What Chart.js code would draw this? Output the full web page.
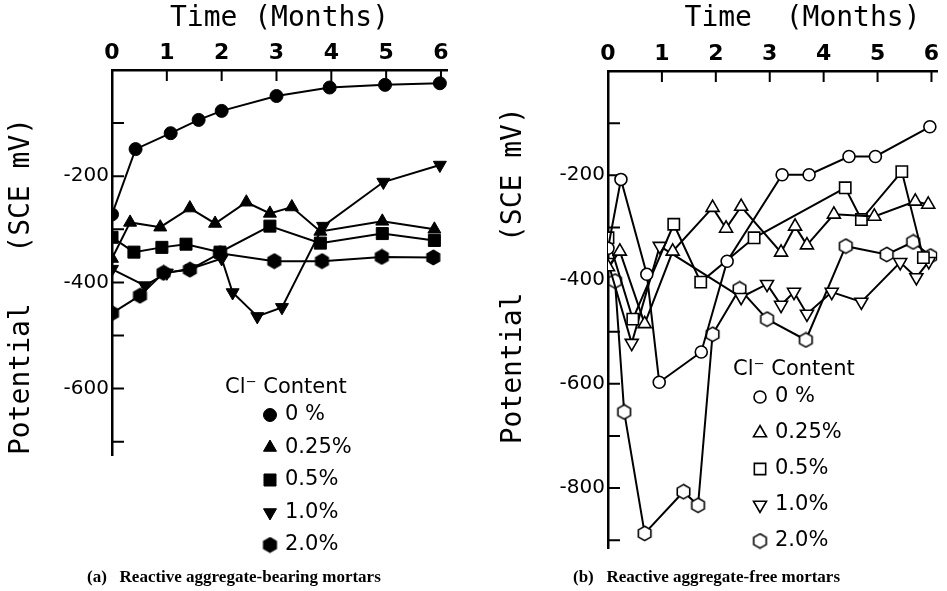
<!DOCTYPE html>
<html>
<head>
<meta charset="utf-8">
<script src="https://cdn.jsdelivr.net/npm/chart.js@4/dist/chart.umd.min.js"></script>
<style>
  body { margin: 0; background: #fff; }
  #wrap { position: relative; width: 947px; height: 591px; overflow: hidden; }
  canvas { position: absolute; top: 0; }
  .caption {
    position: absolute; top: 567px;
    font: bold 17px "Liberation Serif", "DejaVu Serif", serif;
    color: #000; white-space: pre;
  }
</style>
</head>
<body>
<div id="wrap">
  <canvas id="chartA" width="475" height="591" style="left:0"></canvas>
  <canvas id="chartB" width="472" height="591" style="left:475px"></canvas>
  <div class="caption" style="left:87px">(a)   Reactive aggregate-bearing mortars</div>
  <div class="caption" style="left:573px">(b)   Reactive aggregate-free mortars</div>
</div>
<script>
// tick labels
const xTicks = [0, 1, 2, 3, 4, 5, 6];
const aYTicks = [-100, -200, -300, -400, -500, -600, -700];
const aYLabels = [-200, -400, -600];
const bYTicks = [-100, -200, -300, -400, -500, -600, -700, -800, -900];
const bYLabels = [-200, -400, -600, -800];
const contentLabels = ['0 %', '0.25%', '0.5%', '1.0%', '2.0%'];
const legendTitle = 'Cl\u207B Content';

// (a) reactive aggregate-bearing mortars, potential in mV vs time in months
const aTime0 = [0, 0.43, 1.07, 1.58, 2.0, 3.0, 3.97, 4.98, 5.98];
const aPot0 = [-272, -149, -119, -94, -77, -49, -33, -28, -25];
const aTime025 = [0, 0.33, 0.88, 1.42, 1.88, 2.45, 2.88, 3.28, 3.8, 4.93, 5.88];
const aPot025 = [-355, -287, -296, -260, -289, -249, -270, -258, -304, -285, -300];
const aTime05 = [0, 0.4, 0.91, 1.35, 1.97, 2.88, 3.8, 4.93, 5.88];
const aPot05 = [-315, -343, -334, -328, -343, -294, -326, -308, -321];
const aTime10 = [0, 0.6, 1.0, 1.45, 2.0, 2.2, 2.65, 3.1, 3.85, 4.95, 5.98];
const aPot10 = [-375, -406, -382, -374, -355, -419, -464, -447, -294, -211, -179];
const aTime20 = [0, 0.51, 0.94, 1.42, 1.97, 2.96, 3.83, 4.92, 5.86];
const aPot20 = [-458, -425, -382, -376, -345, -360, -360, -352, -353];

// (b) reactive aggregate-free mortars
const bTime0 = [0, 0.24, 0.72, 0.95, 1.73, 2.21, 3.23, 3.73, 4.47, 4.96, 5.97];
const bPot0 = [-340, -208, -390, -597, -539, -365, -199, -199, -164, -164, -107];
const bTime025 = [0, 0.22, 0.68, 1.2, 1.94, 2.19, 2.47, 3.21, 3.47, 3.69, 4.19, 4.94, 5.7, 5.94];
const bPot025 = [-376, -346, -485, -346, -262, -302, -260, -348, -298, -334, -275, -279, -250, -256];
const bTime05 = [0, 0.46, 1.22, 1.72, 2.71, 4.4, 4.7, 5.45, 5.85];
const bPot05 = [-320, -476, -294, -405, -320, -224, -285, -193, -358];
const bTime10 = [0, 0.44, 0.96, 2.47, 2.95, 3.21, 3.45, 3.69, 4.15, 4.7, 5.42, 5.72, 5.95];
const bPot10 = [-367, -522, -336, -434, -409, -449, -424, -466, -424, -443, -367, -396, -365];
const bTime20 = [0.13, 0.3, 0.68, 1.4, 1.67, 1.94, 2.44, 2.95, 3.67, 4.41, 5.17, 5.66, 5.98];
const bPot20 = [-403, -654, -887, -807, -833, -505, -418, -476, -516, -336, -352, -328, -355];

function pts(times, vals) {
  return times.map((t, i) => ({ x: t, y: vals[i] }));
}

// hexagon marker, pointy top
function hexagonMarker(filled) {
  const c = document.createElement('canvas');
  c.width = 17;
  c.height = 17;
  const g = c.getContext('2d');
  g.beginPath();
  for (let k = 0; k < 6; k++) {
    const a = (Math.PI / 3) * k - Math.PI / 2;
    const px = 8.5 + 7.2 * Math.cos(a);
    const py = 8.5 + 7.2 * Math.sin(a);
    if (k === 0) g.moveTo(px, py);
    else g.lineTo(px, py);
  }
  g.closePath();
  g.fillStyle = filled ? '#000' : '#fff';
  g.fill();
  g.lineWidth = 1.6;
  g.strokeStyle = '#000';
  g.stroke();
  return c;
}

// marker sets: filled for (a), open for (b)
function markerStyles(filled) {
  const fill = filled ? '#000' : '#fff';
  const bw = filled ? 1 : 1.6;
  return [
    { pointStyle: 'circle', pointRadius: filled ? 6.5 : 6, pointRotation: 0 },
    { pointStyle: 'triangle', pointRadius: 7.5, pointRotation: 0 },
    { pointStyle: 'rect', pointRadius: filled ? 8.5 : 8, pointRotation: 0 },
    { pointStyle: 'triangle', pointRadius: 7.5, pointRotation: 180 },
    { pointStyle: hexagonMarker(filled), pointRadius: 8, pointRotation: 0 },
  ].map((m) => Object.assign(m, {
    pointBackgroundColor: fill,
    pointBorderColor: '#000',
    pointBorderWidth: bw,
  }));
}

function buildDatasets(series, filled) {
  const styles = markerStyles(filled);
  return series.map((s, i) => Object.assign({
    label: contentLabels[i],
    data: pts(s[0], s[1]),
    borderColor: '#000',
    borderWidth: 2,
    fill: false,
    tension: 0,
  }, styles[i]));
}

// tick marks pointing into the plot
const inwardTicks = {
  id: 'inwardTicks',
  beforeDatasetsDraw(chart) {
    const { ctx, chartArea } = chart;
    const xs = chart.scales.x;
    const ys = chart.scales.y;
    ctx.save();
    ctx.strokeStyle = '#000';
    ctx.lineWidth = 2;
    ctx.beginPath();
    xs.ticks.forEach((t) => {
      const px = xs.getPixelForValue(t.value);
      ctx.moveTo(px, chartArea.top);
      ctx.lineTo(px, chartArea.top + 11);
    });
    ys.ticks.forEach((t) => {
      const py = ys.getPixelForValue(t.value);
      ctx.moveTo(chartArea.left, py);
      ctx.lineTo(chartArea.left + 12, py);
    });
    ctx.stroke();
    ctx.restore();
  },
};

// legend block placed inside the plot
const insetLegend = {
  id: 'insetLegend',
  afterDraw(chart, args, opts) {
    const ctx = chart.ctx;
    ctx.save();
    ctx.font = '21px "DejaVu Sans", sans-serif';
    ctx.textBaseline = 'middle';
    ctx.textAlign = 'left';
    ctx.fillStyle = '#000';
    ctx.fillText(legendTitle, opts.x, opts.y);
    chart.data.datasets.forEach((ds, i) => {
      const y = opts.y + opts.firstGap + i * opts.rowGap;
      ctx.fillStyle = ds.pointBackgroundColor;
      ctx.strokeStyle = ds.pointBorderColor;
      ctx.lineWidth = ds.pointBorderWidth;
      Chart.helpers.drawPoint(ctx, {
        pointStyle: ds.pointStyle,
        rotation: ds.pointRotation,
        radius: ds.pointRadius,
        borderWidth: ds.pointBorderWidth,
      }, opts.markerX, y);
      ctx.fillStyle = '#000';
      ctx.fillText(ds.label, opts.textX, y);
    });
    ctx.restore();
  },
};

const titleFont = { family: '"DejaVu Sans Mono", monospace', size: 28 };

function makeChart(id, datasets, o) {
  return new Chart(document.getElementById(id), {
    type: 'line',
    data: { datasets },
    plugins: [inwardTicks, insetLegend],
    options: {
      responsive: false,
      animation: false,
      events: [],
      layout: { padding: { left: 0, top: 0, right: o.padRight, bottom: o.padBottom } },
      plugins: {
        legend: { display: false },
        tooltip: { enabled: false },
        insetLegend: o.legend,
      },
      scales: {
        x: {
          type: 'linear',
          position: 'top',
          min: 0,
          max: 6.11,
          afterBuildTicks: (s) => { s.ticks = xTicks.map((v) => ({ value: v })); },
          afterFit: (s) => { s.height = o.axisTop; },
          grid: { display: false, drawTicks: false },
          border: { display: true, color: '#000', width: 2.5 },
          ticks: {
            color: '#000',
            padding: 4,
            maxRotation: 0,
            autoSkip: false,
            font: { family: '"DejaVu Sans", sans-serif', size: 22, weight: 'bold' },
          },
          title: {
            display: true,
            text: o.xTitle,
            align: o.xAlign,
            color: '#000',
            font: titleFont,
            padding: { top: 2, bottom: 0 },
          },
        },
        y: {
          type: 'linear',
          min: o.yMin,
          max: 0,
          afterBuildTicks: (s) => { s.ticks = o.yTicks.map((v) => ({ value: v })); },
          afterFit: (s) => { s.width = o.axisLeft; },
          grid: { display: false, drawTicks: false },
          border: { display: true, color: '#000', width: 2.5 },
          ticks: {
            color: '#000',
            padding: 3,
            autoSkip: false,
            font: { family: '"DejaVu Sans", sans-serif', size: 20 },
            callback: (v) => (o.yLabels.includes(v) ? String(v) : ''),
          },
          title: {
            display: true,
            text: o.yTitle,
            align: o.yAlign,
            color: '#000',
            font: titleFont,
            padding: { top: o.yTitlePad, bottom: 0 },
          },
        },
      },
    },
  });
}

makeChart('chartA', buildDatasets([
  [aTime0, aPot0], [aTime025, aPot025], [aTime05, aPot05], [aTime10, aPot10], [aTime20, aPot20],
], true), {
  padRight: 28, padBottom: 136, axisTop: 70, axisLeft: 112,
  yMin: -725, yTicks: aYTicks, yLabels: aYLabels,
  xTitle: 'Time (Months)', xAlign: 'center',
  yTitle: 'Potential   (SCE mV)', yAlign: 'start', yTitlePad: 5,
  legend: { x: 225, y: 388, firstGap: 27, rowGap: 32.5, markerX: 270, textX: 285 },
});

makeChart('chartB', buildDatasets([
  [bTime0, bPot0], [bTime025, bPot025], [bTime05, bPot05], [bTime10, bPot10], [bTime20, bPot20],
], false), {
  padRight: 8, padBottom: 43, axisTop: 71, axisLeft: 133,
  yMin: -915, yTicks: bYTicks, yLabels: bYLabels,
  xTitle: 'Time  (Months) ', xAlign: 'end',
  yTitle: '    Potential   (SCE mV)', yAlign: 'center', yTitlePad: 22,
  legend: { x: 258, y: 370, firstGap: 27, rowGap: 36, markerX: 285, textX: 300 },
});
</script>
</body>
</html>
